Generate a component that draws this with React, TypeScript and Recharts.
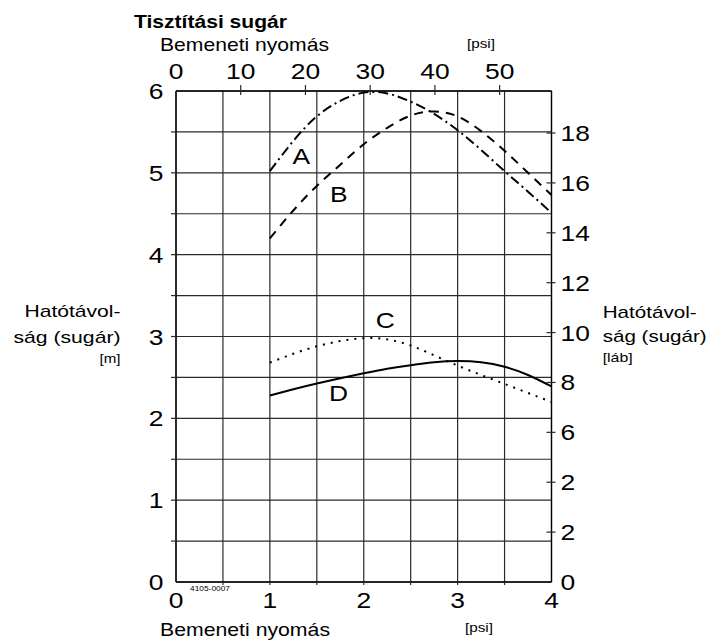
import React from 'react';
import { ComposedChart, Line, XAxis, YAxis, CartesianGrid, ReferenceDot } from 'recharts';

// Inlet pressure [bar] at which the curves are sampled
const pressureBar = [1, 1.25, 1.5, 1.75, 2, 2.25, 2.5, 2.75, 3, 3.25, 3.5, 3.75, 4];
// Throw radius [m]
const seriesA = [5.02, 5.39, 5.69, 5.88, 5.98, 5.97, 5.87, 5.72, 5.52, 5.28, 5.02, 4.77, 4.51];
const seriesB = [4.20, 4.54, 4.84, 5.10, 5.35, 5.55, 5.70, 5.75, 5.69, 5.51, 5.27, 5.00, 4.73];
const seriesC = [2.68, 2.79, 2.88, 2.945, 2.98, 2.965, 2.89, 2.77, 2.645, 2.53, 2.42, 2.31, 2.20];
const seriesD = [2.28, 2.355, 2.425, 2.49, 2.55, 2.605, 2.65, 2.685, 2.70, 2.685, 2.63, 2.53, 2.39];

const barTicks = [0, 0.5, 1, 1.5, 2, 2.5, 3, 3.5, 4];
const psiTicks = [0, 10, 20, 30, 40, 50];
const meterTicks = [0, 0.5, 1, 1.5, 2, 2.5, 3, 3.5, 4, 4.5, 5, 5.5, 6];
const footTicks = [0, 2, 4, 6, 8, 10, 12, 14, 16, 18];
const footTickLabels = ['0', '2', '2', '6', '8', '10', '12', '14', '16', '18'];

const curveNames = ['A', 'B', 'C', 'D'];
const curveLabelBar = [1.335, 1.734, 2.23, 1.73];
const curveLabelMeter = [5.21, 4.744, 3.2, 2.31];

const BAR_MAX = 4;
const PSI_PER_BAR = 14.5038;
const M_MAX = 6;
const FT_PER_M = 3.28084;

const data = pressureBar.map((b, i) => ({
  bar: b,
  psi: b * PSI_PER_BAR,
  A: seriesA[i],
  B: seriesB[i],
  C: seriesC[i],
  D: seriesD[i],
}));

const FONT = '"Liberation Sans", Arial, Helvetica, sans-serif';
const GRID = '#2a2a2a';
const SX = 1.2;

const Digit = ({ x, y, anchor, children }: any) => (
  <text
    transform={`translate(${x},${y}) scale(${SX},1)`}
    textAnchor={anchor}
    fontFamily={FONT}
    fontSize={22}
    fill="#000"
  >
    {children}
  </text>
);

const LeftTick = (p: any) => {
  const { x, y, payload } = p;
  const v = payload.value;
  return (
    <g>
      {v > 0 && v < M_MAX && <line x1={x - 5} x2={x} y1={y} y2={y} stroke={GRID} strokeWidth={1.2} />}
      {Number.isInteger(v) && (
        <Digit x={x - 12.5} y={y + 8} anchor="end">
          {v}
        </Digit>
      )}
    </g>
  );
};

const RightTick = (p: any) => {
  const { x, y, payload, index } = p;
  const v = payload.value;
  return (
    <g>
      {v > 0 && <line x1={x - 5} x2={x + 4} y1={y} y2={y} stroke={GRID} strokeWidth={1.2} />}
      <Digit x={x + 9} y={y + 8} anchor="start">
        {footTickLabels[index]}
      </Digit>
    </g>
  );
};

const BottomTick = (p: any) => {
  const { x, y, payload } = p;
  const v = payload.value;
  return (
    <g>
      {v > 0 && v < BAR_MAX && <line x1={x} x2={x} y1={y} y2={y + 3} stroke={GRID} strokeWidth={1.2} />}
      {Number.isInteger(v) && (
        <Digit x={x} y={y + 26} anchor="middle">
          {v}
        </Digit>
      )}
    </g>
  );
};

const TopTick = (p: any) => {
  const { x, y, payload } = p;
  const v = payload.value;
  return (
    <g>
      {v > 0 && <line x1={x} x2={x} y1={y - 6} y2={y + 4} stroke={GRID} strokeWidth={1.2} />}
      <Digit x={x} y={y - 12.5} anchor="middle">
        {v}
      </Digit>
    </g>
  );
};

const CurveLetter = (name: string) => (p: any) => (
  <text
    transform={`translate(${p.cx},${p.cy + 8}) scale(${SX},1)`}
    textAnchor="middle"
    fontFamily={FONT}
    fontSize={22}
    fill="#000"
  >
    {name}
  </text>
);

const T = ({ x, y, size, len, anchor = 'start', bold = false, children }: any) => (
  <text
    x={x}
    y={y}
    fontFamily={FONT}
    fontSize={size}
    fontWeight={bold ? 'bold' : 'normal'}
    textAnchor={anchor}
    textLength={len}
    lengthAdjust="spacingAndGlyphs"
    fill="#000"
  >
    {children}
  </text>
);

export default function App() {
  return (
    <div style={{ position: 'absolute', left: 0, top: 0, width: 726, height: 643, background: '#fff' }}>
      <ComposedChart
        width={726}
        height={643}
        data={data}
        margin={{ top: 51, right: 114.5, bottom: 21, left: 116 }}
      >
        <CartesianGrid xAxisId="bar" yAxisId="m" stroke={GRID} strokeWidth={1.2} />
        <XAxis
          xAxisId="bar"
          dataKey="bar"
          type="number"
          domain={[0, BAR_MAX]}
          ticks={barTicks}
          interval={0}
          height={40}
          tickSize={0}
          tickMargin={0}
          tickLine={false}
          axisLine={{ stroke: '#000', strokeWidth: 1.3 }}
          tick={<BottomTick />}
        />
        <XAxis
          xAxisId="psi"
          dataKey="psi"
          orientation="top"
          type="number"
          domain={[0, BAR_MAX * PSI_PER_BAR]}
          ticks={psiTicks}
          interval={0}
          height={40}
          tickSize={0}
          tickMargin={0}
          tickLine={false}
          axisLine={{ stroke: '#000', strokeWidth: 1.3 }}
          tick={<TopTick />}
          allowDataOverflow
        />
        <YAxis
          yAxisId="m"
          type="number"
          domain={[0, M_MAX]}
          ticks={meterTicks}
          interval={0}
          width={60}
          tickSize={0}
          tickMargin={0}
          tickLine={false}
          axisLine={{ stroke: '#000', strokeWidth: 1.3 }}
          tick={<LeftTick />}
        />
        <YAxis
          yAxisId="ft"
          orientation="right"
          type="number"
          domain={[0, M_MAX * FT_PER_M]}
          ticks={footTicks}
          interval={0}
          width={60}
          tickSize={0}
          tickMargin={0}
          tickLine={false}
          axisLine={{ stroke: '#000', strokeWidth: 1.3 }}
          tick={<RightTick />}
          allowDataOverflow
        />
        <Line xAxisId="bar" yAxisId="m" type="natural" dataKey="A" stroke="#000" strokeWidth={2}
          strokeDasharray="10 4 2 4" dot={false} isAnimationActive={false} />
        <Line xAxisId="bar" yAxisId="m" type="natural" dataKey="B" stroke="#000" strokeWidth={2}
          strokeDasharray="9 7" dot={false} isAnimationActive={false} />
        <Line xAxisId="bar" yAxisId="m" type="natural" dataKey="C" stroke="#000" strokeWidth={2}
          strokeDasharray="2 6" dot={false} isAnimationActive={false} />
        <Line xAxisId="bar" yAxisId="m" type="natural" dataKey="D" stroke="#000" strokeWidth={2}
          dot={false} isAnimationActive={false} />
        {curveNames.map((n, i) => (
          <ReferenceDot
            key={n}
            xAxisId="bar"
            yAxisId="m"
            x={curveLabelBar[i]}
            y={curveLabelMeter[i]}
            r={0}
            shape={CurveLetter(n)}
          />
        ))}
      </ComposedChart>
      <svg
        width={726}
        height={643}
        style={{ position: 'absolute', left: 0, top: 0, pointerEvents: 'none' }}
      >
        <T x={134} y={28} size={18} len={153} bold>Tisztítási sugár</T>
        <T x={160} y={51} size={19} len={169}>Bemeneti nyomás</T>
        <T x={467} y={48} size={13} len={28}>[psi]</T>
        <T x={160} y={636} size={19} len={170}>Bemeneti nyomás</T>
        <T x={465} y={632} size={13} len={28}>[psi]</T>
        <T x={190} y={590.5} size={8} len={40}>4105-0007</T>
        <T x={120.5} y={317} size={17} len={96} anchor="end">Hatótávol-</T>
        <T x={120.5} y={343} size={17} len={107} anchor="end">ság (sugár)</T>
        <T x={120.5} y={363} size={13} len={21} anchor="end">[m]</T>
        <T x={602.7} y={318} size={17} len={94}>Hatótávol-</T>
        <T x={602.7} y={342} size={17} len={104}>ság (sugár)</T>
        <T x={602.7} y={362} size={13} len={30}>[láb]</T>
      </svg>
    </div>
  );
}
